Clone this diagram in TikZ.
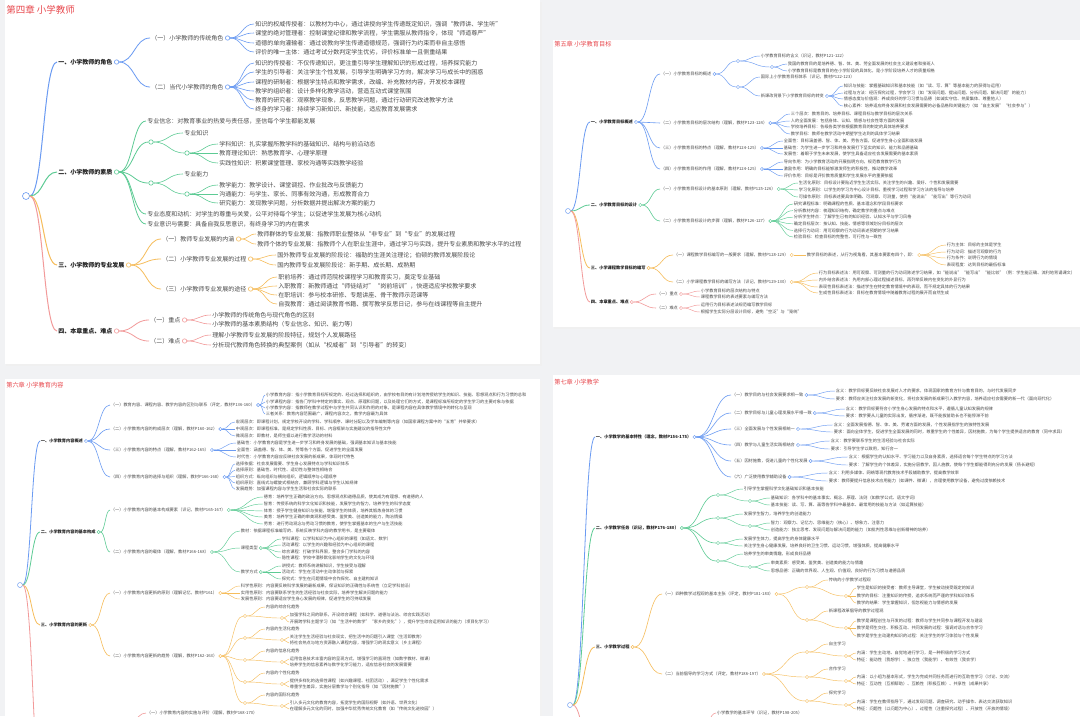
\documentclass[tikz,border=0pt]{standalone}
\usepackage{fontspec}
\setmainfont{Noto Sans CJK SC}
\definecolor{mmblue}{HTML}{6B9BF2}
\definecolor{mmgreen}{HTML}{5DCB94}
\definecolor{mmorange}{HTML}{F6BD5C}
\definecolor{mmred}{HTML}{F29A9A}
\definecolor{mmtitle}{HTML}{E8494E}
\definecolor{mmtext}{HTML}{4A4A4A}
\definecolor{mmdark}{HTML}{222222}
\definecolor{mmpage}{HTML}{F1F2F4}
\usetikzlibrary{positioning, calc}
\begin{document}
\begin{tikzpicture}[x=1pt, y=-1pt, line width=0.6pt,
  link/.style={to path={let \p1=(\tikztostart), \p2=(\tikztotarget) in
    .. controls ({(\x1+\x2)/2},\y1) and ({(\x1+\x2)/2},\y2) .. (\tikztotarget)}},
  hub/.style={circle, draw, fill=white, inner sep=0pt, minimum size=4.4pt, line width=0.6pt},
  shub/.style={hub, minimum size=3.2pt, line width=0.45pt},
  big/.style={anchor=west, inner sep=1pt, text=mmtext, font=\fontsize{6}{7}\selectfont},
  bigb/.style={big, text=mmdark, font=\fontsize{6}{7}\selectfont\bfseries},
  sml/.style={anchor=west, inner sep=0.6pt, text=mmtext, font=\fontsize{4.2}{5}\selectfont},
  smlb/.style={sml, text=mmdark, font=\fontsize{4.2}{5}\selectfont\bfseries},
  ttl/.style={anchor=west, inner sep=0pt, text=mmtitle},
  thin/.style={line width=0.45pt},
]
\useasboundingbox (0,0) rectangle (1080,716);
\fill[mmpage] (0,0) rectangle (1080,716);
\fill[black!6] (6,1.5) rectangle (541.5,365.5);
\fill[white] (5,0) rectangle (540,364);
\fill[black!6] (554,41.5) rectangle (1080,328.5);
\fill[white] (553,40) rectangle (1080,327);
\fill[black!5] (6,380.5) rectangle (541.5,716);
\fill[white] (5,379) rectangle (540,716);
\fill[black!5] (554,376.5) rectangle (1080,716);
\fill[white] (553,375) rectangle (1080,716);

\node[ttl, font=\fontsize{9.5}{11}\selectfont] (T4) at (6,10) {第四章 小学教师};
\node[hub, draw=mmblue, minimum size=7pt] (R4) at (26,196) {};
\node[bigb] (A1) at (57,62) {一、小学教师的角色};
\node[hub, draw=mmblue, right=0.5pt of A1] (A1h) {};
\node[big] (A11) at (150,38) {（一）小学教师的传统角色};
\node[hub, draw=mmblue, right=0.5pt of A11] (A11h) {};
\node[big] (A111) at (254,24) {知识的权威传授者：以教材为中心，通过讲授向学生传递既定知识，强调“教师讲、学生听”};
\node[big] (A112) at (254,33) {课堂的绝对管理者：控制课堂纪律和教学流程，学生需服从教师指令，体现“师道尊严”};
\node[big] (A113) at (254,43) {道德的单向灌输者：通过说教向学生传递道德规范，强调行为约束而非自主感悟};
\node[big] (A114) at (254,52) {评价的唯一主体：通过考试分数判定学生优劣，评价标准单一且侧重结果};
\node[big] (A12) at (150,87) {（二）当代小学教师的角色};
\node[hub, draw=mmblue, right=0.5pt of A12] (A12h) {};
\node[big] (A121) at (254,63) {知识的传授者：不仅传递知识，更注重引导学生理解知识的形成过程，培养探究能力};
\node[big] (A122) at (254,72) {学生的引导者：关注学生个性发展，引导学生明确学习方向，解决学习与成长中的困惑};
\node[big] (A123) at (254,82) {课程的研制者：根据学生特点和教学需求，改编、补充教材内容，开发校本课程};
\node[big] (A124) at (254,91) {教学的组织者：设计多样化教学活动，营造互动式课堂氛围};
\node[big] (A125) at (254,100) {教育的研究者：观察教学现象，反思教学问题，通过行动研究改进教学方法};
\node[big] (A126) at (254,109) {终身的学习者：持续学习新知识、新技能，适应教育发展需求};

\node[bigb] (A2) at (57,172) {二、小学教师的素质};
\node[hub, draw=mmgreen, right=0.5pt of A2] (A2h) {};
\node[big] (A21) at (146,121) {专业信念：对教育事业的热爱与责任感，坚信每个学生都能发展};
\node[hub, draw=mmgreen] (A22) at (151,142) {};
\node[big] (A221) at (183,133) {专业知识};
\node[hub, draw=mmgreen] (A22h) at (187,153) {};
\node[big] (A2211) at (218,144) {学科知识：扎实掌握所教学科的基础知识、结构与前沿动态};
\node[big] (A2212) at (218,153) {教育理论知识：熟悉教育学、心理学原理};
\node[big] (A2213) at (218,163) {实践性知识：积累课堂管理、家校沟通等实践教学经验};
\node[hub, draw=mmgreen] (A23) at (151,183) {};
\node[big] (A231) at (183,174) {专业能力};
\node[hub, draw=mmgreen] (A23h) at (187,194) {};
\node[big] (A2311) at (218,185) {教学能力：教学设计、课堂调控、作业批改与反馈能力};
\node[big] (A2312) at (218,194) {沟通能力：与学生、家长、同事有效沟通，形成教育合力};
\node[big] (A2313) at (218,203) {研究能力：发现教学问题，分析数据并提出解决方案的能力};
\node[big] (A24) at (146,214) {专业态度和动机：对学生的尊重与关爱，公平对待每个学生；以促进学生发展为核心动机};
\node[big] (A25) at (146,224) {专业意识与需要：具备自我反思意识，有终身学习的内在需求};

\node[bigb] (A3) at (57,265) {三、小学教师的专业发展};
\node[hub, draw=mmorange, right=0.5pt of A3] (A3h) {};
\node[big] (A31) at (161,239) {（一）教师专业发展的内涵};
\node[hub, draw=mmorange, right=0.5pt of A31] (A31h) {};
\node[big] (A311) at (256,234) {教师群体的专业发展：指教师职业整体从“非专业”到“专业”的发展过程};
\node[big] (A312) at (256,244) {教师个体的专业发展：指教师个人在职业生涯中，通过学习与实践，提升专业素质和教学水平的过程};
\node[big] (A32) at (161,259) {（二）小学教师专业发展的过程};
\node[hub, draw=mmorange, right=0.5pt of A32] (A32h) {};
\node[big] (A321) at (276,255) {国外教师专业发展的阶段论：福勒的生涯关注理论；伯顿的教师发展阶段论};
\node[big] (A322) at (276,265) {国内教师专业发展阶段论：新手期、成长期、成熟期};
\node[big] (A33) at (161,289) {（三）小学教师专业发展的途径};
\node[hub, draw=mmorange, right=0.5pt of A33] (A33h) {};
\node[big] (A331) at (277,277) {职前培养：通过师范院校课程学习和教育实习，奠定专业基础};
\node[big] (A332) at (277,286) {入职教育：新教师通过“师徒结对”“岗前培训”，快速适应学校教学要求};
\node[big] (A333) at (277,295) {在职培训：参与校本研修、专题讲座、骨干教师示范课等};
\node[big] (A334) at (277,304) {自我教育：通过阅读教育书籍、撰写教学反思日记，参与在线课程等自主提升};

\node[bigb] (A4) at (57,331) {四、本章重点、难点};
\node[hub, draw=mmred, right=0.5pt of A4] (A4h) {};
\node[big] (A41) at (149,320) {（一）重点};
\node[hub, draw=mmred, right=0.5pt of A41] (A41h) {};
\node[big] (A411) at (211,315) {小学教师的传统角色与现代角色的区别};
\node[big] (A412) at (211,324) {小学教师的基本素质结构（专业信念、知识、能力等）};
\node[big] (A42) at (149,341) {（二）难点};
\node[hub, draw=mmred, right=0.5pt of A42] (A42h) {};
\node[big] (A421) at (211,335) {理解小学教师专业发展的阶段特征，规划个人发展路径};
\node[big] (A422) at (211,345) {分析现代教师角色转换的典型案例（如从“权威者”到“引导者”的转变）};

\draw[mmblue, line width=1pt] (R4.east) to[link] (A1.west);
\draw[mmgreen, line width=1pt] (R4.east) to[link] (A2.west);
\draw[mmorange, line width=1pt] (R4.east) to[link] (A3.west);
\draw[mmred, line width=1pt] (R4.east) to[link] (A4.west);
\foreach \q in {A11,A12} \draw[mmblue, line width=0.8pt] (A1h.east) to[link] (\q.west);
\foreach \q in {A111,A112,A113,A114} \draw[mmblue] (A11h.east) to[link] (\q.west);
\foreach \q in {A121,A122,A123,A124,A125,A126} \draw[mmblue] (A12h.east) to[link] (\q.west);
\foreach \q in {A21,A22,A23,A24,A25} \draw[mmgreen, line width=0.8pt] (A2h.east) to[link] (\q.west);
\foreach \q in {A221,A22h} \draw[mmgreen] (A22.east) to[link] (\q.west);
\foreach \q in {A2211,A2212,A2213} \draw[mmgreen] (A22h.east) to[link] (\q.west);
\foreach \q in {A231,A23h} \draw[mmgreen] (A23.east) to[link] (\q.west);
\foreach \q in {A2311,A2312,A2313} \draw[mmgreen] (A23h.east) to[link] (\q.west);
\foreach \q in {A31,A32,A33} \draw[mmorange, line width=0.8pt] (A3h.east) to[link] (\q.west);
\foreach \q in {A311,A312} \draw[mmorange] (A31h.east) to[link] (\q.west);
\foreach \q in {A321,A322} \draw[mmorange] (A32h.east) to[link] (\q.west);
\foreach \q in {A331,A332,A333,A334} \draw[mmorange] (A33h.east) to[link] (\q.west);
\foreach \q in {A41,A42} \draw[mmred, line width=0.8pt] (A4h.east) to[link] (\q.west);
\foreach \q in {A411,A412} \draw[mmred] (A41h.east) to[link] (\q.west);
\foreach \q in {A421,A422} \draw[mmred] (A42h.east) to[link] (\q.west);

\node[ttl, font=\fontsize{6.2}{7}\selectfont] (T5) at (554,44) {第五章 小学教育目标};
\node[shub, draw=mmblue, minimum size=5pt] (R5) at (568,211) {};
\node[smlb] (B1) at (590,122) {一、小学教育目标概述};
\node[shub, draw=mmblue, right=0.4pt of B1] (B1h) {};
\node[sml] (B11) at (660,74) {（一）小学教育目标的概述};
\node[shub, draw=mmblue, right=0.4pt of B11] (B11h) {};
\node[shub, draw=mmblue] (B11a) at (738,61) {};
\node[sml] (B11a1) at (760,56) {小学教育目标的含义（识记，教材P121-122）};
\node[shub, draw=mmblue] (B11a2) at (772,67) {};
\node[sml] (B11a21) at (787,64) {我国的教育目的是培养德、智、体、美、劳全面发展的社会主义建设者和接班人};
\node[sml] (B11a22) at (787,71) {小学教育目标是教育目的在小学阶段的具体化，是小学阶段培养人才的质量规格};
\node[shub, draw=mmblue] (B11b) at (738,87) {};
\node[sml] (B11b1) at (760,77) {国际上小学教育目标体系（识记，教材P122-123）};
\node[sml] (B11b2) at (760,96) {新课改背景下小学教育目标的转变};
\node[shub, draw=mmblue, right=0.4pt of B11b2] (B11b2h) {};
\node[sml] (B11b21) at (843,86) {知识与技能：掌握基础知识和基本技能（如“读、写、算”等基本能力的获得与运用）};
\node[sml] (B11b22) at (843,93) {过程与方法：经历探究过程，学会学习（如“发现问题、提出问题、分析问题、解决问题”的能力）};
\node[sml] (B11b23) at (843,99) {情感态度与价值观：养成良好的学习习惯与品德（如诚实守信、热爱集体、尊重他人）};
\node[sml] (B11b24) at (843,106) {核心素养：培养适应终身发展和社会发展需要的必备品格和关键能力（如“自主发展”“社会参与”）};
\node[sml] (B12) at (660,123) {（二）小学教育目标的层次结构（理解，教材P123-124）};
\node[shub, draw=mmblue, right=0.4pt of B12] (B12h) {};
\node[sml] (B121) at (790,114) {三个层次：教育目的、培养目标、课程目标与教学目标的层次关系};
\node[sml] (B122) at (790,121) {人的全面发展：包括身体、认知、情感与社会性等方面的发展};
\node[sml] (B123) at (790,127) {学校培养目标：各级各类学校根据教育目的制定的具体培养要求};
\node[sml] (B124) at (790,134) {教学目标：教师在教学活动中期望学生达到的具体学习结果};
\node[sml] (B13) at (660,148) {（三）小学教育目标的特点（理解，教材P124-125）};
\node[shub, draw=mmblue, right=0.4pt of B13] (B13h) {};
\node[sml] (B131) at (783,141) {全面性：目标涵盖德、智、体、美、劳各方面，促进学生身心全面和谐发展};
\node[sml] (B132) at (783,148) {基础性：为学生进一步学习和终身发展打下坚实的知识、能力和品德基础};
\node[sml] (B133) at (783,154) {发展性：着眼于学生未来发展，使学生具备适应社会发展需要的基本素质};
\node[sml] (B14) at (660,169) {（四）小学教育目标的作用（理解，教材P124-125）};
\node[shub, draw=mmblue, right=0.4pt of B14] (B14h) {};
\node[sml] (B141) at (783,162) {导向作用：为小学教育活动的开展指明方向，规范教育教学行为};
\node[sml] (B142) at (783,169) {激励作用：明确的目标能够激发师生的积极性，推动教学改革};
\node[sml] (B143) at (783,176) {评价作用：目标是评价教育质量和学生发展水平的重要依据};

\node[smlb] (B2) at (590,205) {二、小学教育目标的设计};
\node[shub, draw=mmgreen, right=0.4pt of B2] (B2h) {};
\node[sml] (B21) at (660,189) {（一）小学教育目标设计的基本原则（理解，教材P125-126）};
\node[shub, draw=mmgreen, right=0.4pt of B21] (B21h) {};
\node[sml] (B211) at (798,183) {生活化原则：目标设计要贴近学生生活实际，关注学生的兴趣、爱好、个性和发展需要};
\node[sml] (B212) at (798,190) {学习化原则：以学生的学习为中心设计目标，重视学习过程和学习方法的指导与培养};
\node[sml] (B213) at (798,197) {可操作原则：目标表述要具体明确、可观察、可测量，使用“能说出”“能写出”等行为动词};
\node[sml] (B22) at (660,221) {（二）小学教育目标设计的步骤（理解，教材P126-127）};
\node[shub, draw=mmgreen, right=0.4pt of B22] (B22h) {};
\node[sml] (B221) at (793,204) {研究课程标准：明确课程的性质、基本理念和学段目标要求};
\node[sml] (B222) at (793,210.6) {分析教材内容：梳理知识结构，确定教学的重点与难点};
\node[sml] (B223) at (793,217.2) {分析学生特点：了解学生已有的知识经验、认知水平与学习风格};
\node[sml] (B224) at (793,223.8) {确定目标层次：按认知、技能、情感等领域划分目标的层次};
\node[sml] (B225) at (793,230.4) {选择行为动词：用可观察的行为动词表述预期的学习结果};
\node[sml] (B226) at (793,237) {检验目标：检查目标的完整性、可行性与一致性};

\node[smlb] (B3) at (590,268) {三、小学课程教学目标的编写};
\node[shub, draw=mmorange, right=0.4pt of B3] (B3h) {};
\node[sml] (B31) at (673,255) {（一）课程教学目标编写的一般要求（理解，教材P128-129）};
\node[shub, draw=mmorange, right=0.4pt of B31] (B31h) {};
\node[sml] (B311) at (806,255) {教学目标的表述，从行为视角看，其基本要素有四个，即：};
\node[shub, draw=mmorange, right=0.4pt of B311] (B311h) {};
\node[sml] (B3111) at (946,245) {行为主体：目标的主体是学生};
\node[sml] (B3112) at (946,252) {行为动词：描述可观察的行为};
\node[sml] (B3113) at (946,258) {行为条件：说明行为的情境};
\node[sml] (B3114) at (946,265) {表现程度：达到目标的最低标准};
\node[sml] (B32) at (673,282) {（二）小学课程教学目标的编写方法（识记，教材P129-130）};
\node[shub, draw=mmorange, right=0.4pt of B32] (B32h) {};
\node[sml] (B321) at (818,273) {行为目标表述法：用可观察、可测量的行为动词陈述学习结果，如“能说出”“能写出”“能比较”（例：学生能正确、流利地背诵课文）};
\node[sml] (B322) at (818,280) {内外结合表述法：先用内部心理过程描述目标，再列举反映内在变化的外显行为};
\node[sml] (B323) at (818,287) {表现性目标表述法：描述学生在特定教育情境中的表现，而不规定具体的行为结果};
\node[sml] (B324) at (818,293) {生成性目标表述法：目标在教育情境中随着教育过程的展开而自然生成};

\node[smlb] (B4) at (590,302) {四、本章重点、难点};
\node[shub, draw=mmred, right=0.4pt of B4] (B4h) {};
\node[sml] (B41) at (656,294) {（一）重点};
\node[shub, draw=mmred, right=0.4pt of B41] (B41h) {};
\node[sml] (B411) at (700,291) {小学教育目标的层次结构与特点};
\node[sml] (B412) at (700,297) {课程教学目标的表述要素与编写方法};
\node[sml] (B42) at (656,308) {（二）难点};
\node[shub, draw=mmred, right=0.4pt of B42] (B42h) {};
\node[sml] (B421) at (700,305) {运用行为目标表述法规范编写教学目标};
\node[sml] (B422) at (700,312) {根据学生实际分层设计目标，避免“空泛”与“笼统”};

\draw[mmblue, line width=0.8pt] (R5.east) to[link] (B1.west);
\draw[mmgreen, line width=0.8pt] (R5.east) to[link] (B2.west);
\draw[mmorange, line width=0.8pt] (R5.east) to[link] (B3.west);
\draw[mmred, line width=0.8pt] (R5.east) to[link] (B4.west);
\foreach \q in {B11,B12,B13,B14} \draw[mmblue] (B1h.east) to[link] (\q.west);
\foreach \q in {B11a,B11b} \draw[mmblue, thin] (B11h.east) to[link] (\q.west);
\foreach \q in {B11a1,B11a2} \draw[mmblue, thin] (B11a.east) to[link] (\q.west);
\foreach \q in {B11a21,B11a22} \draw[mmblue, thin] (B11a2.east) to[link] (\q.west);
\foreach \q in {B11b1,B11b2} \draw[mmblue, thin] (B11b.east) to[link] (\q.west);
\foreach \q in {B11b21,B11b22,B11b23,B11b24} \draw[mmblue, thin] (B11b2h.east) to[link] (\q.west);
\foreach \q in {B121,B122,B123,B124} \draw[mmblue, thin] (B12h.east) to[link] (\q.west);
\foreach \q in {B131,B132,B133} \draw[mmblue, thin] (B13h.east) to[link] (\q.west);
\foreach \q in {B141,B142,B143} \draw[mmblue, thin] (B14h.east) to[link] (\q.west);
\foreach \q in {B21,B22} \draw[mmgreen] (B2h.east) to[link] (\q.west);
\foreach \q in {B211,B212,B213} \draw[mmgreen, thin] (B21h.east) to[link] (\q.west);
\foreach \q in {B221,B222,B223,B224,B225,B226} \draw[mmgreen, thin] (B22h.east) to[link] (\q.west);
\foreach \q in {B31,B32} \draw[mmorange] (B3h.east) to[link] (\q.west);
\draw[mmorange, thin] (B31h.east) to[link] (B311.west);
\foreach \q in {B3111,B3112,B3113,B3114} \draw[mmorange, thin] (B311h.east) to[link] (\q.west);
\foreach \q in {B321,B322,B323,B324} \draw[mmorange, thin] (B32h.east) to[link] (\q.west);
\foreach \q in {B41,B42} \draw[mmred] (B4h.east) to[link] (\q.west);
\foreach \q in {B411,B412} \draw[mmred, thin] (B41h.east) to[link] (\q.west);
\foreach \q in {B421,B422} \draw[mmred, thin] (B42h.east) to[link] (\q.west);

\node[ttl, font=\fontsize{6.2}{7}\selectfont] (T6) at (6,385) {第六章 小学教育内容};
\node[shub, draw=mmblue, minimum size=5pt] (R6) at (20,585) {};
\node[smlb] (C1) at (40,441) {一、小学教育内容概述};
\node[shub, draw=mmblue, right=0.4pt of C1] (C1h) {};
\node[sml] (C11) at (110,405) {（一）教育内容、课程内容、教学内容的区别与联系（评定，教材P136-160）};
\node[shub, draw=mmblue, right=0.4pt of C11] (C11h) {};
\node[sml] (C111) at (265,395) {小学教育内容：指小学教育目标所规定的、经过选择和组织的，由学校有目的有计划地传授给学生的知识、技能、思想观点和行为习惯的总和};
\node[sml] (C112) at (265,402) {小学课程内容：指各门学科中特定的事实、观点、原理和问题，以及处理它们的方式，是课程标准所规定的学生学习的主要对象与依据};
\node[sml] (C113) at (265,408) {小学教学内容：指教师在教学过程中与学生共同认识和作用的对象，是课程内容在具体教学情境中的转化与呈现};
\node[sml] (C114) at (265,414) {三者关系：教育内容范围最广，课程内容次之，教学内容最为具体};
\node[sml] (C12) at (110,429) {（二）小学教育内容的构成层次（理解，教材P160-162）};
\node[shub, draw=mmblue, right=0.4pt of C12] (C12h) {};
\node[sml] (C121) at (235,422) {宏观层次：即课程计划，规定学校开设的学科、学科顺序、课时分配以及学年编制等内容（如国家课程方案中的“五育”并举要求）};
\node[sml] (C122) at (235,429) {中观层次：即课程标准，是规定学科性质、目标、内容框架与实施建议的指导性文件};
\node[sml] (C123) at (235,436) {微观层次：即教材，是师生据以进行教学活动的材料};
\node[sml] (C13) at (110,450) {（三）小学教育内容的特点（理解，教材P162-165）};
\node[shub, draw=mmblue, right=0.4pt of C13] (C13h) {};
\node[sml] (C131) at (236,443) {基础性：小学教育内容是学生进一步学习和终身发展的基础，强调基本知识与基本技能};
\node[sml] (C132) at (236,450) {全面性：涵盖德、智、体、美、劳等各个方面，促进学生的全面发展};
\node[sml] (C133) at (236,457) {时代性：小学教育内容应反映社会发展的新成果，体现时代特色};
\node[sml] (C14) at (110,477) {（四）小学教育内容的选择与组织（理解，教材P166-168）};
\node[shub, draw=mmblue, right=0.4pt of C14] (C14h) {};
\node[sml] (C141) at (235,464) {选择依据：社会发展需要、学生身心发展特点与学科知识体系};
\node[sml] (C142) at (235,470.3) {选择原则：基础性、时代性、适切性与整体性相结合};
\node[sml] (C143) at (235,476.6) {组织方式：纵向组织与横向组织，逻辑顺序与心理顺序};
\node[sml] (C144) at (235,482.9) {组织原则：直线式与螺旋式相结合，兼顾学科逻辑与学生认知规律};
\node[sml] (C145) at (235,489.2) {发展趋势：加强课程内容与学生生活和社会实际的联系};

\node[smlb] (C2) at (40,532) {二、小学教育内容的基本构成};
\node[shub, draw=mmgreen, right=0.4pt of C2] (C2h) {};
\node[sml] (C21) at (110,510) {（一）小学教育内容的基本构成要素（识记，教材P165-167）};
\node[shub, draw=mmgreen, right=0.4pt of C21] (C21h) {};
\node[sml] (C211) at (263,497) {德育：培养学生正确的政治方向、思想观点和道德品质，使其成为有理想、有道德的人};
\node[sml] (C212) at (263,504) {智育：传授系统的科学文化知识和技能，发展学生的智力，培养学生的科学态度};
\node[sml] (C213) at (263,511) {体育：授予学生健身知识与技能，增强学生的体质，培养其锻炼身体的习惯};
\node[sml] (C214) at (263,517) {美育：培养学生正确的审美观和感受美、鉴赏美、创造美的能力，陶冶情操};
\node[sml] (C215) at (263,524) {劳育：进行劳动观念与劳动习惯的教育，使学生掌握基本的生产与生活技能};
\node[sml] (C22) at (110,552) {（二）小学教育内容的载体（理解，教材P166-168）};
\node[shub, draw=mmgreen, right=0.4pt of C22] (C22h) {};
\node[sml] (C221) at (240,531) {教材：依据课程标准编写的、系统反映学科内容的教学用书，是主要载体};
\node[sml] (C222) at (240,548) {课程类型};
\node[shub, draw=mmgreen, right=0.4pt of C222] (C222h) {};
\node[sml] (C2221) at (281,539) {学科课程：以学科知识为中心组织的课程（如语文、数学）};
\node[sml] (C2222) at (281,545) {活动课程：以学生的兴趣和经验为中心组织的课程};
\node[sml] (C2223) at (281,552) {综合课程：打破学科界限，整合多门学科的内容};
\node[sml] (C2224) at (281,558) {隐性课程：学校中潜移默化影响学生的文化与环境};
\node[sml] (C223) at (240,572) {教学方式};
\node[shub, draw=mmgreen, right=0.4pt of C223] (C223h) {};
\node[sml] (C2231) at (281,566) {讲授式：教师系统讲解知识，学生接受与理解};
\node[sml] (C2232) at (281,572) {活动式：学生在活动中主动体验与探索};
\node[sml] (C2233) at (281,579) {探究式：学生在问题情境中合作探究、自主建构知识};

\node[smlb] (C3) at (40,625) {三、小学教育内容的更新};
\node[shub, draw=mmorange, right=0.4pt of C3] (C3h) {};
\node[sml] (C31) at (110,593) {（一）小学教育内容更新的原则（理解记忆，教材P161）};
\node[shub, draw=mmorange, right=0.4pt of C31] (C31h) {};
\node[sml] (C311) at (240,586) {科学性原则：内容要反映科学发展的最新成果，保证知识的正确性与系统性（立足学科前沿）};
\node[sml] (C312) at (240,593) {实用性原则：内容要联系学生的生活经验与社会实际，培养学生解决问题的能力};
\node[sml] (C313) at (240,599) {发展性原则：内容要适应学生身心发展的规律，促进学生的可持续发展};
\node[sml] (C32) at (110,656) {（二）小学教育内容更新的趋势（理解，教材P162-163）};
\node[shub, draw=mmorange, right=0.4pt of C32] (C32h) {};
\node[shub, draw=mmorange] (C32a) at (245,616) {};
\node[sml] (C32a1) at (265,607) {内容的综合化趋势};
\node[shub, draw=mmorange] (C32ah) at (282,618) {};
\node[sml] (C32a11) at (289,615) {加强学科之间的联系，开设综合课程（如科学、道德与法治、综合实践活动）};
\node[sml] (C32a12) at (289,622) {开展跨学科主题学习（如“生活中的数学”“家乡的变化”），提升学生综合运用知识的能力（项目化学习）};
\node[shub, draw=mmorange] (C32b) at (245,638) {};
\node[sml] (C32b1) at (265,629) {内容的生活化趋势};
\node[shub, draw=mmorange] (C32bh) at (282,640) {};
\node[sml] (C32b11) at (289,637) {关注学生生活经验与社会现实，把生活中的问题引入课堂（生活即教育）};
\node[sml] (C32b12) at (289,643) {将社会热点与地方资源融入课程内容，增强学习的现实意义（乡土课程）};
\node[shub, draw=mmorange] (C32c) at (245,660) {};
\node[sml] (C32c1) at (265,651) {内容的信息化趋势};
\node[shub, draw=mmorange] (C32ch) at (282,662) {};
\node[sml] (C32c11) at (289,659) {运用信息技术丰富内容的呈现方式，增强学习的直观性（如数字教材、微课）};
\node[sml] (C32c12) at (289,665) {培养学生的信息素养与数字化学习能力，适应信息社会的发展需要};
\node[shub, draw=mmorange] (C32d) at (245,682) {};
\node[sml] (C32d1) at (265,673) {内容的个性化趋势};
\node[shub, draw=mmorange] (C32dh) at (282,684) {};
\node[sml] (C32d11) at (289,681) {提供多样化的选择性课程（如兴趣课程、社团活动），满足学生个性化需求};
\node[sml] (C32d12) at (289,687) {尊重学生差异，实施分层教学与个别化指导（如“因材施教”）};
\node[shub, draw=mmorange] (C32e) at (245,703) {};
\node[sml] (C32e1) at (265,695) {内容的国际化趋势};
\node[shub, draw=mmorange] (C32eh) at (282,706) {};
\node[sml] (C32e11) at (289,703) {引入多元文化的教育内容，拓宽学生的国际视野（如外语、世界文化）};
\node[sml] (C32e12) at (289,709) {在理解多元文化的同时，加强中华优秀传统文化教育（如“传统文化进校园”）};
\coordinate (C4) at (44,820);
\coordinate (C4h) at (100,800);
\node[sml] (C41) at (146,713) {（一）小学教育内容的实施与评价（理解，教材P168-170）};

\draw[mmblue, line width=0.8pt] (R6.east) to[link] (C1.west);
\draw[mmgreen, line width=0.8pt] (R6.east) to[link] (C2.west);
\draw[mmorange, line width=0.8pt] (R6.east) to[link] (C3.west);
\draw[mmred, line width=0.8pt] (R6.east) to[link] (C4);
\draw[mmred] (C4h) to[link] (C41.west);
\foreach \q in {C11,C12,C13,C14} \draw[mmblue] (C1h.east) to[link] (\q.west);
\foreach \q in {C111,C112,C113,C114} \draw[mmblue, thin] (C11h.east) to[link] (\q.west);
\foreach \q in {C121,C122,C123} \draw[mmblue, thin] (C12h.east) to[link] (\q.west);
\foreach \q in {C131,C132,C133} \draw[mmblue, thin] (C13h.east) to[link] (\q.west);
\foreach \q in {C141,C142,C143,C144,C145} \draw[mmblue, thin] (C14h.east) to[link] (\q.west);
\foreach \q in {C21,C22} \draw[mmgreen] (C2h.east) to[link] (\q.west);
\foreach \q in {C211,C212,C213,C214,C215} \draw[mmgreen, thin] (C21h.east) to[link] (\q.west);
\foreach \q in {C221,C222,C223} \draw[mmgreen, thin] (C22h.east) to[link] (\q.west);
\foreach \q in {C2221,C2222,C2223,C2224} \draw[mmgreen, thin] (C222h.east) to[link] (\q.west);
\foreach \q in {C2231,C2232,C2233} \draw[mmgreen, thin] (C223h.east) to[link] (\q.west);
\foreach \q in {C31,C32} \draw[mmorange] (C3h.east) to[link] (\q.west);
\foreach \q in {C311,C312,C313} \draw[mmorange, thin] (C31h.east) to[link] (\q.west);
\foreach \g in {a,b,c,d,e} {
  \draw[mmorange, thin] (C32h.east) to[link] (C32\g.west);
  \draw[mmorange, thin] (C32\g.east) to[link] (C32\g1.west);
  \draw[mmorange, thin] (C32\g.east) to[link] (C32\g h.west);
  \draw[mmorange, thin] (C32\g h.east) to[link] (C32\g11.west);
  \draw[mmorange, thin] (C32\g h.east) to[link] (C32\g12.west);
}

\node[ttl, font=\fontsize{6.2}{7}\selectfont] (T7) at (554,382) {第七章 小学教学};
\node[shub, draw=mmblue, minimum size=5pt] (R7) at (570,705) {};
\node[smlb] (D1) at (595,437) {一、小学教学的基本特性（理念，教材P156-175）};
\node[shub, draw=mmblue, right=0.4pt of D1] (D1h) {};
\node[sml] (D11) at (731,395) {（一）教学目的与社会发展要求相一致};
\node[shub, draw=mmblue, right=0.4pt of D11] (D11h) {};
\node[sml] (D111) at (835,391) {含义：教学目标要反映社会发展对人才的要求，体现国家的教育方针与教育目的，与时代发展同步};
\node[sml] (D112) at (835,399) {要求：教师应关注社会发展的新变化，将社会发展的新成果引入教学内容，培养适应社会需要的新一代（面向现代化）};
\node[sml] (D12) at (731,413) {（二）教学目标与儿童心理发展水平相一致};
\node[shub, draw=mmblue, right=0.4pt of D12] (D12h) {};
\node[sml] (D121) at (845,409) {含义：教学目标要符合小学生身心发展的特点和水平，遵循儿童认知发展的规律};
\node[sml] (D122) at (845,416) {要求：教学要从儿童的实际出发，循序渐进，既不能拔苗助长也不能停滞不前};
\node[sml] (D13) at (731,429) {（三）全面发展与个性发展相统一};
\node[shub, draw=mmblue, right=0.4pt of D13] (D13h) {};
\node[sml] (D131) at (833,425) {含义：全面发展指德、智、体、美、劳诸方面的发展，个性发展指学生的独特性发展};
\node[sml] (D132) at (833,432) {要求：面向全体学生，促进学生全面发展的同时，尊重学生的个性差异，因材施教，为每个学生提供适合的教育（同中求异）};
\node[sml] (D14) at (731,445) {（四）教学与儿童生活实践相结合};
\node[shub, draw=mmblue, right=0.4pt of D14] (D14h) {};
\node[sml] (D141) at (830,441) {含义：教学要联系学生的生活经验与社会实际};
\node[sml] (D142) at (830,449) {要求：引导学生学以致用，知行合一};
\node[sml] (D15) at (731,461) {（五）因材施教，促进儿童的个性化发展};
\node[shub, draw=mmblue, right=0.4pt of D15] (D15h) {};
\node[sml] (D151) at (848,457) {含义：根据学生的认知水平、学习能力以及自身素质，选择适合每个学生特点的学习方法};
\node[sml] (D152) at (848,465) {要求：了解学生的个体差异，实施分层教学，因人施教，使每个学生都能得到充分的发展（扬长避短）};
\node[sml] (D16) at (731,477) {（六）广泛使用教学辅助设备};
\node[shub, draw=mmblue, right=0.4pt of D16] (D16h) {};
\node[sml] (D161) at (828,473) {含义：利用多媒体、网络等现代教育技术手段辅助教学，提高教学效率};
\node[sml] (D162) at (828,481) {要求：教师要提升信息技术应用能力（如课件、微课），合理使用教学设备，避免过度依赖技术};

\node[smlb] (D2) at (595,528) {二、小学教学任务（识记，教材P176-180）};
\node[shub, draw=mmgreen, right=0.4pt of D2] (D2h) {};
\node[shub, draw=mmgreen] (D2a) at (718,495) {};
\node[sml] (D2a1) at (743,489) {引导学生掌握科学文化基础知识和基本技能};
\node[shub, draw=mmgreen] (D2ah) at (750,501) {};
\node[sml] (D2a11) at (770,498) {基础知识：各学科中的基本事实、概念、原理、法则（如数学公式、语文字词）};
\node[sml] (D2a12) at (770,505) {基本技能：读、写、算、画等各学科中最基本、最常用的技能与方法（如运算技能）};
\node[shub, draw=mmgreen] (D2b) at (718,518) {};
\node[sml] (D2b1) at (743,514) {发展学生智力，培养学生的创造能力};
\node[shub, draw=mmgreen] (D2bh) at (750,526) {};
\node[sml] (D2b11) at (770,523) {智力：观察力、记忆力、思维能力（核心）、想象力、注意力};
\node[sml] (D2b12) at (770,530) {创造能力：独立思考、发现问题与解决问题的能力（如批判性思维与创新精神的培养）};
\node[shub, draw=mmgreen] (D2c) at (718,543) {};
\node[sml] (D2c1) at (743,539) {发展学生体力，提高学生的身体健康水平};
\node[sml] (D2c2) at (743,546) {关注学生身心健康发展，培养良好的卫生习惯、运动习惯，增强体质，提高健康水平};
\node[shub, draw=mmgreen] (D2d) at (718,561) {};
\node[sml] (D2d1) at (743,554) {培养学生的审美情趣，形成良好品德};
\node[shub, draw=mmgreen] (D2dh) at (750,567) {};
\node[sml] (D2d11) at (770,563) {审美素质：感受美、鉴赏美、创造美的能力与情趣};
\node[sml] (D2d12) at (770,571) {思想品德：正确的世界观、人生观、价值观，良好的行为习惯与道德品质};

\node[smlb] (D3) at (595,647) {三、小学教学过程};
\node[shub, draw=mmorange, right=0.4pt of D3] (D3h) {};
\node[sml] (D31) at (662,594) {（一）四种教学过程观的基本主张（评定，教材P181-183）};
\node[shub, draw=mmorange, right=0.4pt of D31] (D31h) {};
\node[shub, draw=mmorange] (D31a) at (807,587) {};
\node[sml] (D31a1) at (828,580) {传统的小学教学过程观};
\node[shub, draw=mmorange] (D31ah) at (846,596) {};
\node[sml] (D31a11) at (856,588) {学生是知识的接受者：教师主导课堂，学生被动接受既定的知识};
\node[sml] (D31a12) at (856,596) {教学的目标：注重知识的传授，追求系统而严谨的学科知识体系};
\node[sml] (D31a13) at (856,603) {教学的结果：学生掌握知识，但忽视能力与情感的发展};
\node[shub, draw=mmorange] (D31b) at (807,620) {};
\node[sml] (D31b1) at (828,611) {新课程改革倡导的教学过程观};
\node[shub, draw=mmorange] (D31bh) at (846,628) {};
\node[sml] (D31b11) at (856,621) {教学是课程创生与开发的过程：教师与学生共同参与课程开发与建设};
\node[sml] (D31b12) at (856,628) {教学是师生交往、积极互动、共同发展的过程：强调对话与合作学习};
\node[sml] (D31b13) at (856,636) {教学是学生主动建构知识的过程：关注学生的学习体验与个性发展};
\node[sml] (D32) at (662,674) {（二）当前倡导的学习方式（评定，教材P186-197）};
\node[shub, draw=mmorange, right=0.4pt of D32] (D32h) {};
\node[shub, draw=mmorange] (D32a) at (807,652) {};
\node[sml] (D32a1) at (828,644) {自主学习};
\node[shub, draw=mmorange] (D32ah) at (846,656) {};
\node[sml] (D32a11) at (856,653) {内涵：学生主动地、自觉地进行学习，是一种积极的学习方式};
\node[sml] (D32a12) at (856,660) {特征：能动性（我想学）、独立性（我能学）、有效性（我会学）};
\node[shub, draw=mmorange] (D32b) at (807,677) {};
\node[sml] (D32b1) at (828,669) {合作学习};
\node[shub, draw=mmorange] (D32bh) at (846,681) {};
\node[sml] (D32b11) at (856,677) {内涵：以小组为基本形式，学生为完成共同任务而进行的互助性学习（讨论、交流）};
\node[sml] (D32b12) at (856,684) {特征：互动性（互相帮助）、互赖性（积极互赖）、共享性（成果共享）};
\node[shub, draw=mmorange] (D32c) at (807,701) {};
\node[sml] (D32c1) at (828,693) {探究学习};
\node[shub, draw=mmorange] (D32ch) at (846,705) {};
\node[sml] (D32c11) at (856,702) {内涵：学生在教师指导下，通过发现问题、调查研究、动手操作、表达交流获取知识};
\node[sml] (D32c12) at (856,709) {特征：问题性（以问题为中心）、过程性（注重探究过程）、开放性（开放的情境）};
\coordinate (D4) at (597,790);
\coordinate (D4h) at (690,780);
\node[sml] (D41) at (716,713) {小学教学的基本环节（识记，教材P198-205）};

\draw[mmblue, line width=0.8pt] (R7.east) to[link] (D1.west);
\draw[mmgreen, line width=0.8pt] (R7.east) to[link] (D2.west);
\draw[mmorange, line width=0.8pt] (R7.east) to[link] (D3.west);
\draw[mmred, line width=0.8pt] (R7.east) to[link] (D4);
\draw[mmred] (D4h) to[link] (D41.west);
\foreach \q in {D11,D12,D13,D14,D15,D16} \draw[mmblue] (D1h.east) to[link] (\q.west);
\foreach \g in {1,...,6} {
  \draw[mmblue, thin] (D1\g h.east) to[link] (D1\g 1.west);
  \draw[mmblue, thin] (D1\g h.east) to[link] (D1\g 2.west);
}
\foreach \q in {D2a,D2b,D2c,D2d} \draw[mmgreen] (D2h.east) to[link] (\q.west);
\foreach \g in {a,b,d} {
  \draw[mmgreen, thin] (D2\g.east) to[link] (D2\g1.west);
  \draw[mmgreen, thin] (D2\g.east) to[link] (D2\g h.west);
  \draw[mmgreen, thin] (D2\g h.east) to[link] (D2\g11.west);
  \draw[mmgreen, thin] (D2\g h.east) to[link] (D2\g12.west);
}
\foreach \q in {D2c1,D2c2} \draw[mmgreen, thin] (D2c.east) to[link] (\q.west);
\foreach \q in {D31,D32} \draw[mmorange] (D3h.east) to[link] (\q.west);
\foreach \g in {a,b} {
  \draw[mmorange, thin] (D31h.east) to[link] (D31\g.west);
  \draw[mmorange, thin] (D31\g.east) to[link] (D31\g1.west);
  \draw[mmorange, thin] (D31\g.east) to[link] (D31\g h.west);
  \foreach \k in {1,2,3} \draw[mmorange, thin] (D31\g h.east) to[link] (D31\g1\k.west);
}
\foreach \g in {a,b,c} {
  \draw[mmorange, thin] (D32h.east) to[link] (D32\g.west);
  \draw[mmorange, thin] (D32\g.east) to[link] (D32\g1.west);
  \draw[mmorange, thin] (D32\g.east) to[link] (D32\g h.west);
  \draw[mmorange, thin] (D32\g h.east) to[link] (D32\g11.west);
  \draw[mmorange, thin] (D32\g h.east) to[link] (D32\g12.west);
}
\end{tikzpicture}
\end{document}
